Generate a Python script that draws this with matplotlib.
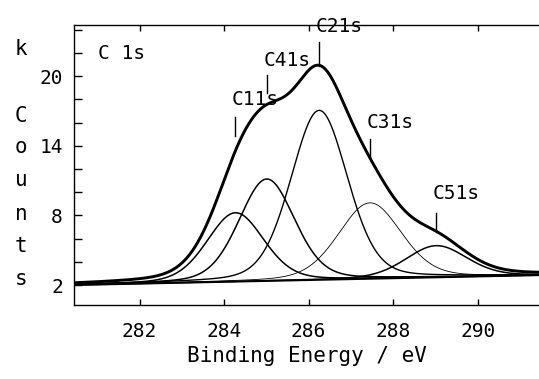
import numpy as np
import matplotlib
matplotlib.use("Agg")
import matplotlib.pyplot as plt

# ---- data ----
# fitted components of the C 1s spectrum
peak_names = ["C11s", "C41s", "C21s", "C31s", "C51s"]
peak_centers = [284.27, 285.01, 286.25, 287.45, 289.02]   # eV
peak_heights = [5.93, 8.78, 14.6, 6.54, 2.73]             # k counts above background
peak_fwhm = [1.58, 1.55, 1.58, 1.75, 1.70]                # eV
peak_lorentz = [0.22, 0.22, 0.22, 0.22, 0.22]             # Lorentzian fraction
peak_lw = [1.1, 1.1, 1.0, 0.6, 1.1]
background_ends = [2.0, 2.85]                              # k counts at the axis limits
x_limits = [280.45, 291.45]
y_limits = [0.28, 24.4]
x_ticks = [282, 284, 286, 288, 290]
y_ticks = [2, 4, 6, 8, 10, 12, 14, 16, 18, 20, 22, 24]
y_labeled = [2, 8, 14, 20]

FONT = "DejaVu Sans Mono"
plt.rcParams["font.family"] = FONT

fig = plt.figure(figsize=(5.39, 3.79), dpi=100)
ax = fig.add_axes([74 / 539, 74 / 379, 1 - 74 / 539, 280 / 379])

x = np.linspace(x_limits[0], x_limits[1], 800)
bg = np.interp(x, x_limits, background_ends)

total = bg.copy()
for c, h, w, eta, lw in zip(peak_centers, peak_heights, peak_fwhm,
                            peak_lorentz, peak_lw):
    u = (x - c) / w
    comp = h * ((1 - eta) * np.exp(-4 * np.log(2) * u ** 2)
                + eta / (1 + 4 * u ** 2))
    total += comp
    ax.plot(x, bg + comp, color="black", lw=lw, solid_capstyle="round")

ax.plot(x, bg, color="black", lw=1.4)
ax.plot(x, total, color="black", lw=2.1)

# labels with marker lines above each component
label_marker = {  # (marker bottom, marker top, text baseline) in k counts
    "C11s": (14.8, 16.5, 17.5),
    "C41s": (18.5, 20.1, 20.9),
    "C21s": (20.9, 22.9, 23.8),
    "C31s": (13.0, 14.6, 15.5),
    "C51s": (6.6, 8.2, 9.4),
}
for name, c in zip(peak_names, peak_centers):
    y0, y1, yt = label_marker[name]
    ax.plot([c, c], [y0, y1], color="black", lw=1.0)
    ax.text(c - 0.08, yt, name, fontsize=14, ha="left", va="baseline",
            color="black")

ax.text(0.052, 0.88, "C 1s", transform=ax.transAxes, fontsize=14,
        ha="left", va="baseline")

ax.set_xlim(x_limits)
ax.set_ylim(y_limits)
ax.set_xticks(x_ticks)
ax.set_xticklabels([str(t) for t in x_ticks])
ax.set_yticks(y_ticks)
ax.set_yticklabels([str(t) if t in y_labeled else "" for t in y_ticks])
ax.tick_params(axis="x", direction="in", length=4, width=1.0, top=True,
               labelsize=14, pad=12)
ax.tick_params(axis="y", direction="in", length=6, width=1.0,
               labelsize=14, pad=8)
ax.spines["right"].set_visible(False)
for sp in ["left", "top", "bottom"]:
    ax.spines[sp].set_linewidth(1.0)

ax.set_xlabel("Binding Energy / eV", fontsize=15, labelpad=4)

# vertical stacked y-label "k Counts"
letters = ["k", "C", "o", "u", "n", "t", "s"]
baselines_px = [55, 122, 153, 186, 220, 252, 285]
for ch, ypx in zip(letters, baselines_px):
    fig.text(21 / 539, 1 - ypx / 379, ch, fontsize=15, ha="center",
             va="baseline")

fig.savefig("out.png", dpi=100)
